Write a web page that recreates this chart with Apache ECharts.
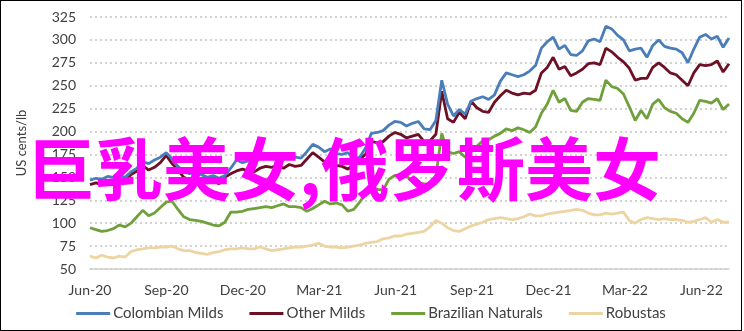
<!DOCTYPE html>
<html>
<head>
<meta charset="utf-8">
<script src="https://cdn.jsdelivr.net/npm/echarts@6/dist/echarts.min.js"></script>
<style>
html,body{margin:0;padding:0;background:#fff;}
#wrap{width:742px;height:331px;border:1px solid #000;box-sizing:border-box;position:relative;}
#chart{width:740px;height:329px;}
</style>
</head>
<body>
<div id="wrap"><div id="chart"></div></div>
<script>
// Weekly observations starting 2020-06-01
var startDate = '2020-06-01';
var stepDays = 7;

var xTickLabels = ['Jun-20','Sep-20','Dec-20','Mar-21','Jun-21','Sep-21','Dec-21','Mar-22','Jun-22'];
var yTicks = [50,75,100,125,150,175,200,225,250,275,300,325];
var seriesNames = ['Colombian Milds','Other Milds','Brazilian Naturals','Robustas'];

var colombianMilds = [147,149,148,151,150,152,150,156,160,167,165,169,172,177,170,162,156,154,156,153,
  150,152,149,152,160,169,166,168,172,170,175,173,174,171,173,172,171,178,186,183,
  178,181,176,175,177,170,172,182,198,199,201,207,211,210,206,209,211,203,202,212,
  256,230,217,224,219,233,236,238,235,240,255,264,262,260,262,266,272,291,298,303,
  290,294,284,283,288,299,301,298,315,312,305,300,288,290,291,281,294,300,293,291,
  290,286,275,290,303,306,301,304,292,302];

var otherMilds = [142,144,142,146,145,147,146,153,157,163,158,161,166,174,165,158,150,147,149,146,
  144,146,143,150,154,157,159,157,156,160,162,161,163,160,164,162,163,170,177,172,
  167,171,163,162,159,164,170,175,189,188,189,195,199,197,193,195,197,189,190,197,
  244,214,210,221,214,233,226,222,221,232,239,245,242,240,242,241,245,264,270,281,
  268,271,261,264,268,274,275,273,291,287,281,276,269,256,258,258,270,275,270,264,
  262,256,250,264,273,272,273,277,265,274];

var brazilianNaturals = [95,93,91,92,94,98,96,100,107,114,108,111,117,123,124,115,107,104,103,102,
  100,98,97,101,112,112,113,115,116,117,118,117,119,121,118,118,117,113,116,120,
  124,121,122,120,113,115,123,132,134,137,136,148,152,153,151,147,144,143,142,151,
  198,178,176,178,172,180,184,190,191,195,198,203,201,204,202,199,205,220,230,245,
  232,236,223,222,232,236,235,234,256,249,247,241,227,212,223,214,230,235,226,222,
  220,214,210,220,234,233,231,236,224,230];

var robustas = [64,62,65,63,62,64,63,69,71,72,73,73,74,74,75,72,70,70,68,67,
  66,68,69,71,72,72,73,72,72,74,72,70,71,72,73,74,74,75,76,78,
  75,74,74,73,74,75,76,78,79,80,83,84,86,86,88,89,90,91,96,103,
  100,95,92,91,94,97,99,101,104,105,106,105,104,105,107,110,108,108,110,111,
  112,113,114,115,114,111,109,109,111,110,111,112,103,100,104,106,105,104,105,104,
  104,103,101,102,104,106,101,104,101,101];

var colors = ['#4a7ebb','#6d0f25','#70a03c','#ecd5a2'];

var start = new Date(startDate + 'T00:00:00Z').getTime();
var dayMs = 86400000;
var dates = colombianMilds.map(function(_, i){ return new Date(start + i*stepDays*dayMs); });
function dayOffset(d){ return Math.round((d.getTime() - start)/dayMs); }
var lastDay = dayOffset(dates[dates.length-1]);
var quarterDays = 91.25;

function toPairs(arr){ return arr.map(function(v,i){ return [dayOffset(dates[i]), v]; }); }
var allData = [colombianMilds, otherMilds, brazilianNaturals, robustas];

var chart = echarts.init(document.getElementById('chart'));
var fontFam = 'Lato, "Open Sans", sans-serif';
chart.setOption({
  animation:false,
  backgroundColor:'#fff',
  grid:{left:89, right:12, top:16, bottom:61},
  legend:{
    bottom:4, left:'center',
    itemWidth:34, itemHeight:3, itemGap:26,
    icon:'rect',
    textStyle:{fontFamily:fontFam, fontSize:15, color:'#404040', padding:[0,0,0,-2]},
    data:seriesNames
  },
  xAxis:{
    type:'value', min:0, max:lastDay, interval:quarterDays,
    axisLine:{show:true, lineStyle:{color:'#d0d0d0', width:1.5}},
    axisTick:{show:false},
    splitLine:{show:false},
    axisLabel:{
      showMaxLabel:false,
      fontFamily:fontFam, fontSize:14, color:'#404040', margin:14,
      formatter:function(v){
        var k = Math.round(v/quarterDays);
        if (Math.abs(v - k*quarterDays) < 0.5 && k < xTickLabels.length) return xTickLabels[k];
        return '';
      }
    }
  },
  yAxis:{
    type:'value', min:yTicks[0], max:yTicks[yTicks.length-1], interval:25,
    name:'US cents/lb', nameLocation:'middle', nameGap:62, nameRotate:90,
    nameTextStyle:{fontFamily:fontFam, fontSize:13, color:'#404040'},
    axisLine:{show:false}, axisTick:{show:false},
    axisLabel:{fontFamily:fontFam, fontSize:14, color:'#404040', margin:14},
    splitLine:{show:true, lineStyle:{color:'#c4c4c4', type:[2,3], width:1.5}}
  },
  series: seriesNames.map(function(n, i){
    return {
      name:n, type:'line', data:toPairs(allData[i]),
      showSymbol:false, symbol:'none',
      lineStyle:{width:2.8, color:colors[i]},
      itemStyle:{color:colors[i]},
      z: 10 - i
    };
  }),
  graphic:[{
    type:'text', left:26, top:134, z:100,
    style:{
      text:'巨乳美女,俄罗斯美女',
      font:'bold 68px "Noto Sans CJK SC", sans-serif',
      fill:'#ff00ff'
    }
  }]
});
</script>
</body>
</html>
